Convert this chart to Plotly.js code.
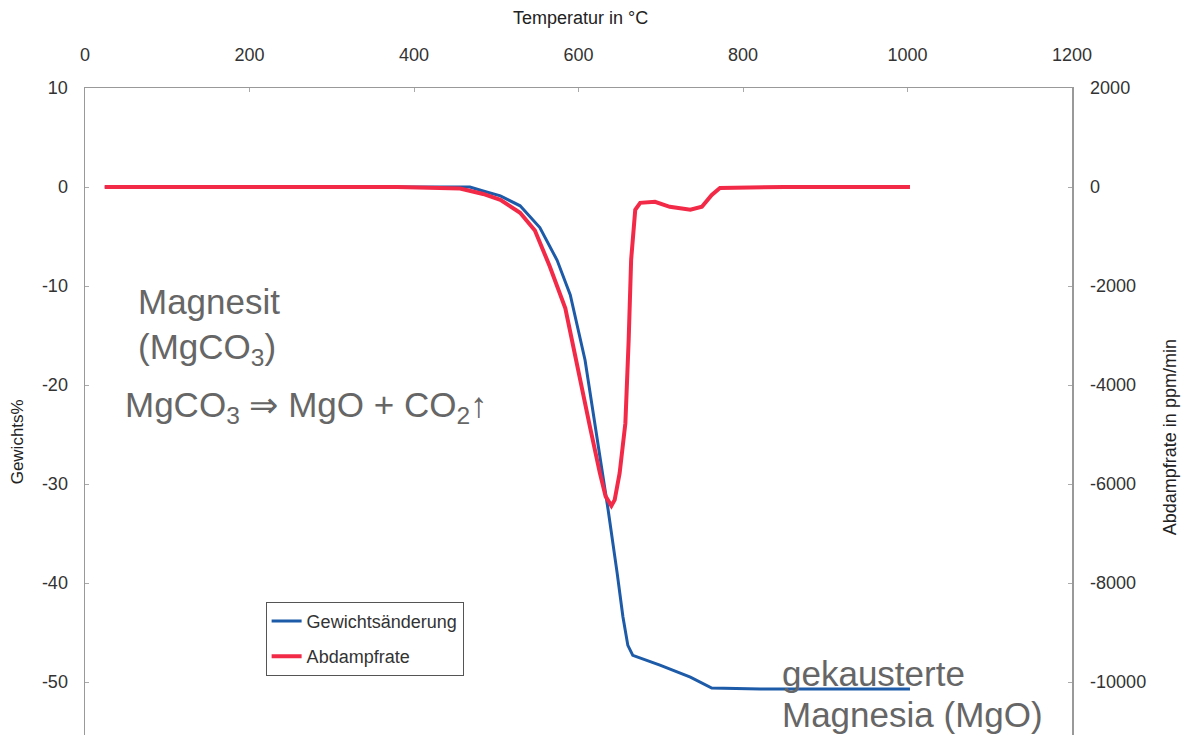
<!DOCTYPE html>
<html>
<head>
<meta charset="utf-8">
<script src="https://cdn.plot.ly/plotly-3.0.1.min.js"></script>
<style>html,body{margin:0;padding:0;background:#fff;}#chart{width:1185px;height:735px;}</style>
</head>
<body>
<div id="chart"></div>
<script>
// Temperature (°C) and weight change (%) — Gewichtsänderung
const tempWeight = [24, 468, 484, 505, 529, 553, 574, 590, 608, 620, 629, 636, 647, 654, 660, 666, 699, 736, 762, 821, 1003];
const weightChange = [0, 0, -0.4, -0.9, -1.9, -4.1, -7.4, -10.9, -17.5, -23.8, -28.6, -32.6, -39.0, -43.4, -46.3, -47.3, -48.3, -49.5, -50.6, -50.7, -50.7];

// Temperature (°C) and evaporation rate (ppm/min) — Abdampfrate
const tempRate = [24, 120, 250, 380, 456, 484, 505, 529, 547, 565, 584, 593, 599, 614, 626, 633, 640, 644, 650, 657, 661, 664, 669, 675, 693, 711, 736, 750, 762, 772, 850, 1003];
const evapRate = [0, 0, 0, 0, -30, -140, -260, -520, -880, -1600, -2450, -3200, -3620, -4850, -5780, -6250, -6440, -6320, -5780, -4770, -3090, -1470, -460, -320, -300, -400, -460, -400, -160, -20, 0, 0];

const xTicks = [0, 200, 400, 600, 800, 1000, 1200];
const yLeftTicks = [10, 0, -10, -20, -30, -40, -50];
const yLeftLabels = ['10', '0', '-10', '-20', '-30', '-40', '-50'];
const yRightTicks = [2000, 0, -2000, -4000, -6000, -8000, -10000];
const yRightLabels = ['2000', '0', '-2000', '-4000', '-6000', '-8000', '-10000'];

const font = 'Liberation Sans, Arial, sans-serif';
const textGray = '#666666';

const traces = [
  {x: tempWeight, y: weightChange, name: 'Gewichtsänderung', type: 'scatter', mode: 'lines',
   line: {color: '#1d5aa8', width: 3}, yaxis: 'y', legendgroup: 'a'},
  {x: tempRate, y: evapRate, name: 'Abdampfrate', type: 'scatter', mode: 'lines',
   line: {color: '#f22a48', width: 4}, yaxis: 'y2', legendgroup: 'b'}
];

const axisCommon = {showgrid: false, zeroline: false, showline: true, linecolor: '#999999', linewidth: 1.5,
  ticks: 'inside', ticklen: 4, tickcolor: '#aaaaaa', tickfont: {family: font, size: 18, color: '#333'}};

const layout = {
  width: 1185, height: 735,
  margin: {l: 85, r: 113, t: 88, b: 0},
  paper_bgcolor: '#fff', plot_bgcolor: '#fff',
  font: {family: font},
  showlegend: true,
  legend: {x: 0.183, y: 0.206, xanchor: 'left', yanchor: 'top', bgcolor: '#fff', bordercolor: '#555', borderwidth: 1,
    font: {family: font, size: 18, color: '#333'}, traceorder: 'grouped', tracegroupgap: 9},
  xaxis: Object.assign({}, axisCommon, {side: 'top', range: [0, 1200], tickvals: xTicks, ticklabelstandoff: 18}),
  yaxis: Object.assign({}, axisCommon, {range: [-55.35, 10], tickvals: yLeftTicks, ticktext: yLeftLabels,
    ticklabelstandoff: 12}),
  yaxis2: Object.assign({}, axisCommon, {overlaying: 'y', side: 'right', range: [-11070, 2000], tickvals: yRightTicks,
    ticktext: yRightLabels, ticklabelstandoff: 13}),
  annotations: [
    {xref: 'paper', yref: 'paper', x: 0.502, y: 1.108, xanchor: 'center', yanchor: 'middle', showarrow: false,
     text: 'Temperatur in °C', font: {family: font, size: 18, color: '#222'}},
    {xref: 'paper', yref: 'y', x: -0.068, y: -25.7, xanchor: 'center', yanchor: 'middle', showarrow: false,
     textangle: -90, text: 'Gewichts%', font: {family: font, size: 17, color: '#222'}},
    {xref: 'paper', yref: 'y', x: 1.1, y: -25.3, xanchor: 'center', yanchor: 'middle', showarrow: false,
     textangle: -90, text: 'Abdampfrate in ppm/min', font: {family: font, size: 18, color: '#222'}},
    {xref: 'x', yref: 'y', x: 62, y: -11.6, xanchor: 'left', yanchor: 'middle', showarrow: false,
     text: 'Magnesit', font: {family: font, size: 35, color: textGray}},
    {xref: 'x', yref: 'y', x: 62, y: -16.4, xanchor: 'left', yanchor: 'middle', showarrow: false,
     text: '(MgCO<sub>3</sub>)', font: {family: font, size: 35, color: textGray}},
    {xref: 'x', yref: 'y', x: 46, y: -22.2, xanchor: 'left', yanchor: 'middle', showarrow: false,
     text: 'MgCO<sub>3</sub> ⇒ MgO + CO<sub>2</sub>↑', font: {family: font, size: 35, color: textGray}},
    {xref: 'x', yref: 'y', x: 845, y: -49.1, xanchor: 'left', yanchor: 'middle', showarrow: false,
     text: 'gekausterte', font: {family: font, size: 35, color: textGray}},
    {xref: 'x', yref: 'y', x: 845, y: -53.3, xanchor: 'left', yanchor: 'middle', showarrow: false,
     text: 'Magnesia (MgO)', font: {family: font, size: 35, color: textGray}}
  ]
};

Plotly.newPlot('chart', traces, layout, {staticPlot: true, displayModeBar: false});
</script>
</body>
</html>
